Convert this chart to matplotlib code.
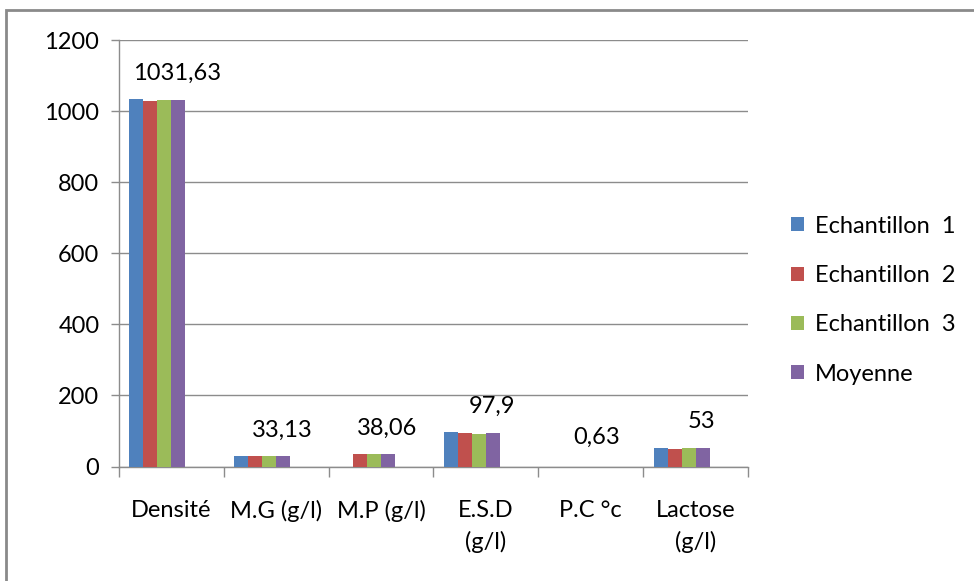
import numpy as np
import matplotlib
matplotlib.use("Agg")
import matplotlib.pyplot as plt
from matplotlib.patches import Rectangle

# données
categories = ["Densité", "M.G (g/l)", "M.P (g/l)", "E.S.D\n(g/l)", "P.C °c", "Lactose\n(g/l)"]
series_names = ["Echantillon  1", "Echantillon  2", "Echantillon  3", "Moyenne"]
ech1 = [1035, 31, 0, 98, 0, 52]
ech2 = [1028, 31, 34, 95, 0, 48]
ech3 = [1031, 30, 34, 91, 0, 52]
moyenne = [1031, 31, 34, 95, 0, 52]
labels = ["1031,63", "33,13", "38,06", "97,9", "0,63", "53"]
label_y = [1107, 103, 108, 169, 81, 127]

colors = ["#4F81BD", "#C0504D", "#9BBB59", "#8064A2"]
GRID = "#8C8C8C"
FS = 17

plt.rcParams['font.family'] = ['Lato', 'DejaVu Sans']

fig = plt.figure(figsize=(9.74, 5.81), dpi=100)
ax = fig.add_axes([0.122, 0.197, 0.646, 0.734])

x = np.arange(len(categories))
w = 1 / 7.5  # 6 emplacements de série, écart 150 %
for i, (vals, name, c) in enumerate(zip([ech1, ech2, ech3, moyenne], series_names, colors)):
    ax.bar(x - 0.4 + w * (i + 0.5), vals, width=w, color=c, label=name, zorder=3)

for xi, txt, yv in zip(x, labels, label_y):
    ax.text(xi + 0.06, yv, txt, ha='center', va='center', fontsize=FS)

ax.set_xlim(-0.5, len(categories) - 0.5)
ax.set_ylim(0, 1200)
ax.set_yticks(range(0, 1201, 200))
ax.yaxis.grid(True, color=GRID, linewidth=1)
ax.set_axisbelow(True)

ax.set_xticks(x)
ax.set_xticklabels(categories, fontsize=FS, linespacing=1.55, va='top')
ax.set_xticks(np.arange(-0.5, len(categories)), minor=True)
ax.tick_params(axis='x', which='major', length=0, pad=24)
ax.tick_params(axis='x', which='minor', length=7, color=GRID, width=1)
ax.tick_params(axis='y', length=6, color=GRID, width=1, labelsize=FS, pad=8)

for s in ['top', 'right']:
    ax.spines[s].set_visible(False)
for s in ['left', 'bottom']:
    ax.spines[s].set_color(GRID)
    ax.spines[s].set_linewidth(1)

ax.legend(loc='center left', bbox_to_anchor=(1.035, 0.39), frameon=False,
          fontsize=FS, handlelength=0.55, handleheight=0.55,
          handletextpad=0.45, labelspacing=1.2)

# cadre du graphique
fig.patches.append(Rectangle((6 / 974, -0.1), 1.2, 1 - 10 / 581 + 0.1,
                             transform=fig.transFigure, fill=False,
                             edgecolor="#8A8A8A", linewidth=2))

fig.savefig("out.png", dpi=100)
